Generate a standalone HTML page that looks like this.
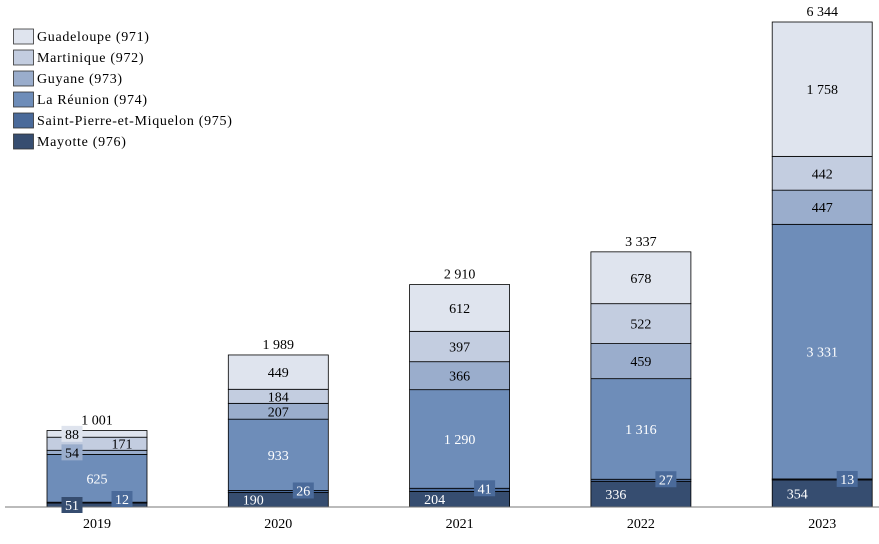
<!DOCTYPE html>
<html><head><meta charset="utf-8"><style>
body{margin:0;background:#fff}
svg text{font-family:"Liberation Serif",serif;font-size:14px}
.lg{letter-spacing:0.7px}
</style></head><body>
<svg id="c" width="879" height="539"></svg>
<script>
const years=["2019","2020","2021","2022","2023"];
const mayotte=[51,190,204,336,354];
const spm=[12,26,41,27,13];
const reunion=[625,933,1290,1316,3331];
const guyane=[54,207,366,459,447];
const martinique=[171,184,397,522,442];
const guadeloupe=[88,449,612,678,1758];
const totals=["1 001","1 989","2 910","3 337","6 344"];
const seriesNames=["Mayotte (976)","Saint-Pierre-et-Miquelon (975)","La Réunion (974)","Guyane (973)","Martinique (972)","Guadeloupe (971)"];
const seriesKeys=["mayotte","spm","reunion","guyane","martinique","guadeloupe"];
const seriesData=[mayotte,spm,reunion,guyane,martinique,guadeloupe];
const colors=["#364d70","#4a6a9a","#6e8db9","#9aadcc","#c3cde0","#dfe4ee"];
const textCol=["#fff","#fff","#fff","#000","#000","#000"];
const svg=document.getElementById('c');const NS="http://www.w3.org/2000/svg";
const base=507,scale=485/6345;
const y=v=>base-v*scale;
const xc=i=>97+i*181.3;
const bw=100;
function mk(t,a,p){const e=document.createElementNS(NS,t);for(const k in a)e.setAttribute(k,a[k]);(p||svg).appendChild(e);return e;}
function fmt(v){return String(v).replace(/\B(?=(\d{3})+(?!\d))/g," ");}
const labels=[];
years.forEach((yr,i)=>{
  let cum=0;
  seriesData.forEach((arr,s)=>{
    const v=arr[i];const y0=y(cum),y1=y(cum+v);cum+=v;
    const r=mk('rect',{x:xc(i)-bw/2,y:y1,width:bw,height:y0-y1,fill:colors[s],stroke:"#000","stroke-width":0.8});
    
    
    const h=y0-y1;let lx=xc(i),ly=(y0+y1)/2,box=false;
    if(s===0){lx=xc(i)-25;if(h<14){box=true;ly=base-2;}}
    else if(s===1){lx=xc(i)+25;box=true;ly=Math.min(y1,base-8);}
    else if(h<14){box=true;lx=xc(i)-25;if(s===4){lx=xc(i)+25;box=false;}}
    labels.push({lx,ly,box,c:colors[s],tc:textCol[s],t:fmt(v),k:seriesKeys[s]+'-'+yr});
  });
  const t=mk('text',{x:xc(i),y:y(cum)-6,"text-anchor":"middle",fill:"#000"});t.textContent=totals[i];
  
  const xl=mk('text',{x:xc(i),y:base+21,"text-anchor":"middle",fill:"#000"});xl.textContent=yr;
  
});
const ax=mk('line',{x1:5,x2:879,y1:base,y2:base,stroke:"#777","stroke-width":1});

labels.forEach(l=>{
  if(l.box){const w=l.t.length*7.5+6;const b=mk('rect',{x:l.lx-w/2,y:l.ly-8,width:w,height:16,fill:l.c});
    }
  const t=mk('text',{x:l.lx,y:l.ly+5,"text-anchor":"middle",fill:l.tc});t.textContent=l.t;
  
});
for(let j=0;j<6;j++){const s=5-j;const yy=29+j*21;
  const g=mk('g',{});
  mk('rect',{x:13.5,y:yy,width:20,height:15,fill:colors[s],stroke:"#333","stroke-width":0.8},g);
  const t=mk('text',{x:37,y:yy+12,fill:"#000","class":"lg"},g);t.textContent=seriesNames[s];
}
</script>
</body></html>
